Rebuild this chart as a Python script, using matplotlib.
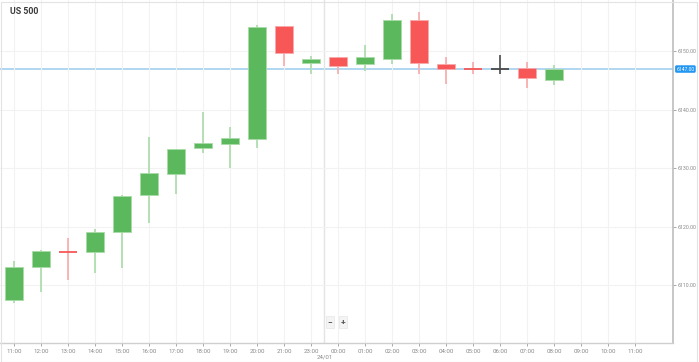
import numpy as np
import matplotlib
matplotlib.use("Agg")
import matplotlib.pyplot as plt
from matplotlib.patches import Rectangle

plt.rcParams['font.family'] = ['Roboto', 'DejaVu Sans']

# ---- data (hourly candles, US 500) ----
hours = ["11:00", "12:00", "13:00", "14:00", "15:00", "16:00", "17:00", "18:00",
         "19:00", "20:00", "21:00", "23:00", "00:00", "01:00", "02:00", "03:00",
         "04:00", "05:00", "06:00", "07:00", "08:00"]
future_hours = ["09:00", "10:00", "11:00"]

opens  = [6107.5, 6113.2, 6115.8, 6115.7, 6119.2, 6125.5, 6129.1, 6133.5, 6134.2, 6135.0,
          6154.4, 6148.0, 6149.1, 6147.9, 6148.7, 6155.4, 6147.9, 6147.05, 6147.0, 6147.2, 6145.1]
closes = [6113.2, 6115.9, 6115.7, 6119.2, 6125.3, 6129.2, 6133.3, 6134.4, 6135.2, 6154.2,
          6149.7, 6148.7, 6147.5, 6149.1, 6155.4, 6148.0, 6147.0, 6146.95, 6147.0, 6145.5, 6147.0]
highs  = [6114.2, 6116.1, 6118.1, 6119.7, 6125.5, 6135.4, 6133.4, 6139.7, 6137.1, 6154.5,
          6154.4, 6149.2, 6149.1, 6151.1, 6156.4, 6156.7, 6149.1, 6148.2, 6149.4, 6148.2, 6147.7]
lows   = [6107.0, 6108.9, 6110.9, 6112.1, 6113.0, 6120.7, 6125.6, 6132.7, 6130.1, 6133.5,
          6147.5, 6146.2, 6146.2, 6146.7, 6147.9, 6146.2, 6144.4, 6146.2, 6146.2, 6143.8, 6144.3]

price_ticks = [6110, 6120, 6130, 6140, 6150]
current_price = 6147.0
day_label = "24/01"
day_break = 11.5      # between 23:00 and 00:00

# ---- colours ----
GREEN, GREEN_W = "#5cb85c", "#a9dba9"
RED, RED_W = "#f75757", "#f8a9a9"
FLAT = "#4a4a4a"

W, H = 699, 362
fig = plt.figure(figsize=(W / 100, H / 100), dpi=100)
ax = fig.add_axes([0, 1 - 343 / H, 673 / W, 343 / H])

n = len(hours)
xs = np.arange(n)
body_w = 0.65

for i in range(n):
    o, c, h, l = opens[i], closes[i], highs[i], lows[i]
    if c > o:
        col, wcol = GREEN, GREEN_W
    elif c < o:
        col, wcol = RED, RED_W
    else:
        col, wcol = FLAT, FLAT
    ax.vlines(xs[i], l, h, color=wcol, lw=1.2, zorder=2)
    if abs(c - o) < 0.2:
        ax.hlines(c, xs[i] - body_w / 2, xs[i] + body_w / 2, color=col, lw=1.3, zorder=3)
    else:
        ax.add_patch(Rectangle((xs[i] - body_w / 2, min(o, c)), body_w, abs(c - o),
                               fc=col, ec=wcol, lw=0.6, zorder=3))

# current price line
ax.axhline(current_price, color="#a9d3f0", lw=1.3, zorder=1)
ax.axvline(day_break, color="#e4e4e4", lw=1.0, zorder=1)

ax.set_xlim(-0.52, 24.41)
ax.set_ylim(6100.17, 6158.8)

all_labels = hours + future_hours
ax.set_xticks(np.arange(len(all_labels)))
ax.set_xticklabels(all_labels)
ax.yaxis.tick_right()
ax.set_yticks(price_ticks)
ax.set_yticklabels([f"{p:.2f}" for p in price_ticks])
ax.tick_params(axis="x", labelsize=4.4, colors="#999999", labelcolor="#888888",
               length=2.5, width=0.6, pad=2)
ax.tick_params(axis="y", labelsize=3.8, colors="#999999", labelcolor="#888888",
               length=2.0, width=0.6, pad=1)

ax.grid(True, color="#f2f2f2", lw=0.8, zorder=0)
for s in ["top", "left"]:
    ax.spines[s].set_visible(False)
ax.spines["right"].set_color("#bdbdbd")
ax.spines["bottom"].set_color("#cfcfcf")
ax.spines["right"].set_linewidth(1.2)
ax.spines["bottom"].set_linewidth(1.0)

# price tag
ax.annotate(f"{current_price:.2f}", xy=(1.005, current_price), xycoords=("axes fraction", "data"),
            ha="left", va="center", fontsize=3.6, color="white",
            bbox=dict(boxstyle="round,pad=0.25,rounding_size=0.3", fc="#2196f3", ec="none"),
            annotation_clip=False)

# day label under the axis
ax.annotate(day_label, xy=(day_break, 0), xycoords=("data", "axes fraction"),
            xytext=(0, -14), textcoords="offset pixels", ha="center", va="center",
            fontsize=4.4, color="#888888", annotation_clip=False)

# title
fig.text(10 / W, 1 - 11 / H, "US 500", fontsize=6.3, fontweight="bold", color="#3a3a3a",
         ha="left", va="center")

# zoom buttons
for px, sym in [(330, "\u2212"), (343, "+")]:
    fig.text(px / W, 1 - 322 / H, sym, fontsize=6, fontweight="bold", color="#555555",
             ha="center", va="center",
             bbox=dict(boxstyle="square,pad=0.25", fc="#f4f4f4", ec="#e6e6e6", lw=0.5))

# outer frame
fig.patches.append(Rectangle((0.5 / W, 0.5 / H), (W - 3) / W, (H - 2) / H,
                             transform=fig.transFigure, fill=False, ec="#e3e3e3", lw=0.8))

fig.savefig("out.png", dpi=100)
